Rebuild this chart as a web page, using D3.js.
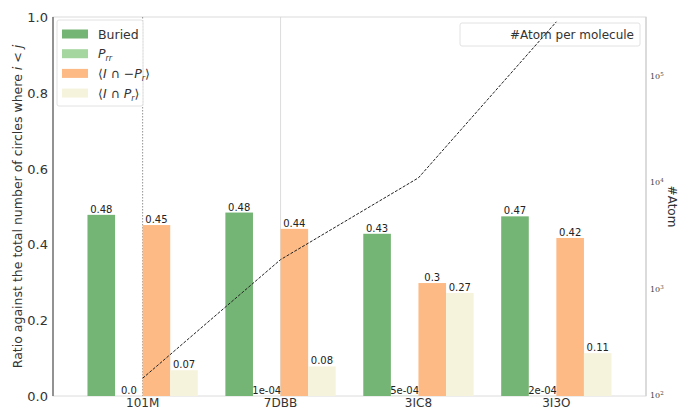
<!DOCTYPE html>
<html>
<head>
<meta charset="utf-8">
<script src="https://cdn.jsdelivr.net/npm/d3@7"></script>
<style>
  body { margin: 0; background: #fff; }
  svg { display: block; font-family: "DejaVu Sans", sans-serif; }
</style>
</head>
<body>
<svg id="chart" width="678" height="409"></svg>
<script>
// Proteins on the x axis
const proteins = ["101M", "7DBB", "3IC8", "3I3O"];

// Ratio series (left axis) and their printed labels
const buried = [0.478, 0.484, 0.428, 0.474];
const buriedLabels = ["0.48", "0.48", "0.43", "0.47"];
const prr = [0.0, 0.0001, 0.0005, 0.0002];
const prrLabels = ["0.0", "1e-04", "5e-04", "2e-04"];
const interNotPr = [0.451, 0.441, 0.298, 0.417];
const interNotPrLabels = ["0.45", "0.44", "0.3", "0.42"];
const interPr = [0.068, 0.078, 0.272, 0.113];
const interPrLabels = ["0.07", "0.08", "0.27", "0.11"];

// Atom count per molecule (right axis, log scale)
const atoms = [145, 1880, 11000, 320000];

const leftTicks = [0.0, 0.2, 0.4, 0.6, 0.8, 1.0];
const rightTicks = [100, 1000, 10000, 100000];

const series = [
  { key: "Buried", values: buried, labels: buriedLabels, color: "#74b474" },
  { key: "Prr", values: prr, labels: prrLabels, color: "#a6d6a0" },
  { key: "InotP", values: interNotPr, labels: interNotPrLabels, color: "#fdba84" },
  { key: "IP", values: interPr, labels: interPrLabels, color: "#f6f3dc" }
];

const svg = d3.select("#chart");
const L = 53, R = 646, T = 17, B = 396;

const x = d3.scaleLinear().domain([-0.65, 3.65]).range([L, R]);
const y = d3.scaleLinear().domain([0, 1]).range([B, T]);
const yR = d3.scaleLog().domain([Math.pow(10, 1.995), Math.pow(10, 5.55)]).range([B, T]);
const barW = x(0.2) - x(0);

// frame
svg.append("rect").attr("x", L).attr("y", T).attr("width", R - L).attr("height", B - T)
  .attr("fill", "none").attr("stroke", "#dcdcdc").attr("stroke-width", 1);

// vertical guide lines behind the bars
svg.append("line").attr("x1", x(0)).attr("x2", x(0)).attr("y1", T).attr("y2", B)
  .attr("stroke", "#777").attr("stroke-width", 0.8).attr("stroke-dasharray", "1.5,1.5");
svg.append("line").attr("x1", x(1)).attr("x2", x(1)).attr("y1", T).attr("y2", B)
  .attr("stroke", "#d4d4d4").attr("stroke-width", 0.8);

// bars
series.forEach((s, si) => {
  const off = (si - 1.5) * 0.2;
  const g = svg.append("g");
  g.selectAll("rect").data(s.values).join("rect")
    .attr("x", (d, i) => x(i + off) - barW / 2)
    .attr("width", barW)
    .attr("y", d => y(d))
    .attr("height", d => B - y(d))
    .attr("fill", s.color);
  g.selectAll("text").data(s.values).join("text")
    .attr("x", (d, i) => x(i + off))
    .attr("y", d => y(d) - 2)
    .attr("text-anchor", "middle")
    .attr("font-size", 10)
    .attr("fill", "#222")
    .text((d, i) => s.labels[i]);
});

// bar legend (drawn under the line)
const lg = svg.append("g");
lg.append("rect").attr("x", 57).attr("y", 20).attr("width", 86).attr("height", 86)
  .attr("fill", "#fff").attr("fill-opacity", 0.85).attr("stroke", "#e2e2e2").attr("rx", 2);
const legendRows = [
  { color: series[0].color, parts: [["Buried", "normal"]] },
  { color: series[1].color, parts: [["P", "italic"], ["rr", "italic", "sub"]] },
  { color: series[2].color, parts: [["⟨", "normal"], ["I", "italic"], [" ∩ −", "normal"], ["P", "italic"], ["r", "italic", "sub"], ["⟩", "normal"]] },
  { color: series[3].color, parts: [["⟨", "normal"], ["I", "italic"], [" ∩ ", "normal"], ["P", "italic"], ["r", "italic", "sub"], ["⟩", "normal"]] }
];
legendRows.forEach((r, i) => {
  const cy = 34 + i * 19.7;
  lg.append("rect").attr("x", 62).attr("y", cy - 4.5).attr("width", 26).attr("height", 9).attr("fill", r.color);
  const t = lg.append("text").attr("x", 98).attr("y", cy + 4.5).attr("font-size", 12.5).attr("fill", "#333");
  let sub = false;
  r.parts.forEach(p => {
    const ts = t.append("tspan").attr("font-style", p[1]).text(p[0]);
    if (p[2] === "sub") { ts.attr("dy", 3).attr("font-size", 8); sub = true; }
    else if (sub) { ts.attr("dy", -3); sub = false; }
  });
});

// line legend
svg.append("rect").attr("x", 460).attr("y", 23).attr("width", 180).attr("height", 23)
  .attr("fill", "#fff").attr("fill-opacity", 0.85).attr("stroke", "#e2e2e2").attr("rx", 2);
svg.append("text").attr("x", 634).attr("y", 39).attr("text-anchor", "end")
  .attr("font-size", 12).attr("fill", "#333").text("#Atom per molecule");

// atom count line
const line = d3.line().x((d, i) => x(i)).y(d => yR(d));
svg.append("path").datum(atoms).attr("d", line)
  .attr("fill", "none").attr("stroke", "#222").attr("stroke-width", 1)
  .attr("stroke-dasharray", "3,1.5");

// left spine and ticks
svg.append("line").attr("x1", L).attr("x2", L).attr("y1", T).attr("y2", B)
  .attr("stroke", "#555").attr("stroke-width", 1.2);
svg.append("g").selectAll("text").data(leftTicks).join("text")
  .attr("x", L - 5).attr("y", d => y(d) + 5)
  .attr("text-anchor", "end").attr("font-size", 13).attr("fill", "#333")
  .text(d => d.toFixed(1));

// left axis title
const yt = svg.append("text")
  .attr("transform", `translate(22,${(T + B) / 2}) rotate(-90)`)
  .attr("text-anchor", "middle").attr("font-size", 12.5).attr("fill", "#333");
yt.append("tspan").text("Ratio against the total number of circles where ");
yt.append("tspan").attr("font-style", "italic").text("i");
yt.append("tspan").text(" < ");
yt.append("tspan").attr("font-style", "italic").text("j");

// x tick labels
svg.append("g").selectAll("text").data(proteins).join("text")
  .attr("x", (d, i) => x(i)).attr("y", B + 11)
  .attr("text-anchor", "middle").attr("font-size", 12).attr("fill", "#333")
  .text(d => d);

// right axis
svg.append("line").attr("x1", R).attr("x2", R).attr("y1", T).attr("y2", B)
  .attr("stroke", "#cfcfcf").attr("stroke-width", 1.2);
const rt = svg.append("g").selectAll("text").data(rightTicks).join("text")
  .attr("x", R + 4).attr("y", d => yR(d) + 3)
  .attr("font-size", 8).attr("fill", "#444")
  .attr("font-family", "DejaVu Serif, serif");
rt.append("tspan").text("10");
rt.append("tspan").attr("dy", -3).attr("font-size", 5.5).text(d => Math.round(Math.log10(d)));

svg.append("text")
  .attr("transform", `translate(668,${(T + B) / 2}) rotate(90)`)
  .attr("text-anchor", "middle").attr("font-size", 12).attr("fill", "#333")
  .text("#Atom");
</script>
</body>
</html>
